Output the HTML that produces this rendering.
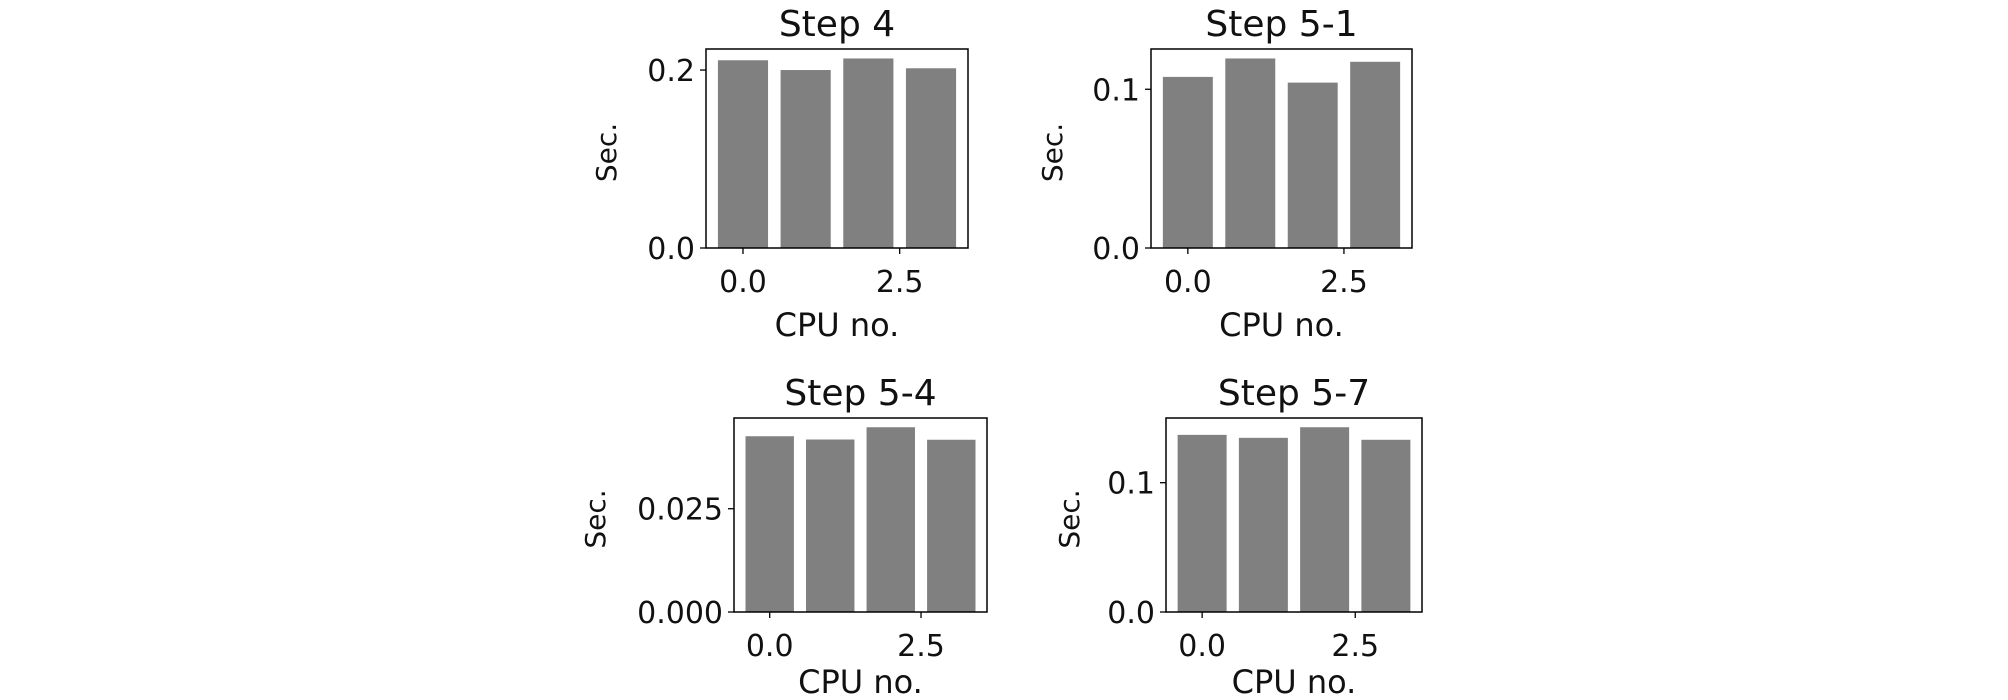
<!DOCTYPE html>
<html><head><meta charset="utf-8"><style>
html,body{margin:0;padding:0;background:#fff;}
svg{display:block;font-family:"DejaVu Sans","Liberation Sans",sans-serif;}
</style></head><body>
<svg id="c" width="2008" height="700" viewBox="0 0 2008 700"></svg>
<script>
const titles = ["Step 4","Step 5-1","Step 5-4","Step 5-7"];
const categories = [0,1,2,3];
const step4Values = [0.211,0.200,0.213,0.202];
const step51Values = [0.1078,0.1194,0.1042,0.1173];
const step54Values = [0.04255,0.04176,0.04473,0.0417];
const step57Values = [0.1370,0.1347,0.1429,0.1332];
const xTicks = [0,2.5];
const xTickLabels = ["0.0","2.5"];
const step4YTicks = [0,0.2]; const step4YLabels = ["0.0","0.2"];
const step51YTicks = [0,0.1]; const step51YLabels = ["0.0","0.1"];
const step54YTicks = [0,0.025]; const step54YLabels = ["0.000","0.025"];
const step57YTicks = [0,0.1]; const step57YLabels = ["0.0","0.1"];

const NS="http://www.w3.org/2000/svg";
const svg=document.getElementById('c');
function mk(t,a,p){const e=document.createElementNS(NS,t);for(const k in a)e.setAttribute(k,a[k]);(p||svg).appendChild(e);return e;}
const panels=[
 {vals:step4Values,yt:step4YTicks,yl:step4YLabels,L:706,R:968,T:49,B:248,key:"step-4",lab:88},
 {vals:step51Values,yt:step51YTicks,yl:step51YLabels,L:1151,R:1412,T:49,B:248,key:"step-5-1",lab:88},
 {vals:step54Values,yt:step54YTicks,yl:step54YLabels,L:734,R:987,T:418,B:612,key:"step-5-4",lab:81},
 {vals:step57Values,yt:step57YTicks,yl:step57YLabels,L:1166,R:1422,T:418,B:612,key:"step-5-7",lab:81}
];
panels.forEach((p,i)=>{
 const g=mk('g',{});
 
 
 const ymax=Math.max(...p.vals)*1.05;
 const x0=-0.59,x1=categories.length-1+0.59;
 const sx=v=>p.L+(v-x0)/(x1-x0)*(p.R-p.L);
 const sy=v=>p.B-v/ymax*(p.B-p.T);
 p.vals.forEach((v,j)=>{
  const r=mk('rect',{x:sx(categories[j]-0.4),y:sy(v),width:sx(categories[j]+0.4)-sx(categories[j]-0.4),height:p.B-sy(v),fill:'#808080'},g);
  
  
 });
 const fr=mk('rect',{x:p.L,y:p.T,width:p.R-p.L,height:p.B-p.T,fill:'none',stroke:'#000','stroke-width':1.5},g);
 
 
 xTicks.forEach((t,k)=>{
  const X=sx(t);
  mk('line',{x1:X,y1:p.B,x2:X,y2:p.B+6,stroke:'#000','stroke-width':1.3},g);
  const tx=mk('text',{x:X,y:p.B+44,'font-size':30,'text-anchor':'middle',fill:'#111'},g);
  tx.textContent=xTickLabels[k];
  
  
 });
 p.yt.forEach((t,k)=>{
  const Y=sy(t);
  mk('line',{x1:p.L-6,y1:Y,x2:p.L,y2:Y,stroke:'#000','stroke-width':1.3},g);
  const tx=mk('text',{x:p.L-11,y:Y+11,'font-size':30,'text-anchor':'end',fill:'#111'},g);
  tx.textContent=p.yl[k];
  
  
 });
 const ti=mk('text',{x:(p.L+p.R)/2,y:p.T-13,'font-size':36,'text-anchor':'middle',fill:'#111'},g);
 ti.textContent=titles[i];
 
 
 const xl=mk('text',{x:(p.L+p.R)/2,y:p.B+p.lab,'font-size':32,'text-anchor':'middle',fill:'#111'},g);
 xl.textContent="CPU no.";
 
 
 const lx=[616,1062,605,1079][i], ly=(p.T+p.B)/2+4;
 const yl=mk('text',{x:lx,y:ly,'font-size':28,'text-anchor':'middle',fill:'#111',transform:`rotate(-90 ${lx} ${ly})`},g);
 yl.textContent="Sec.";
 
 
});
</script>
</body></html>
